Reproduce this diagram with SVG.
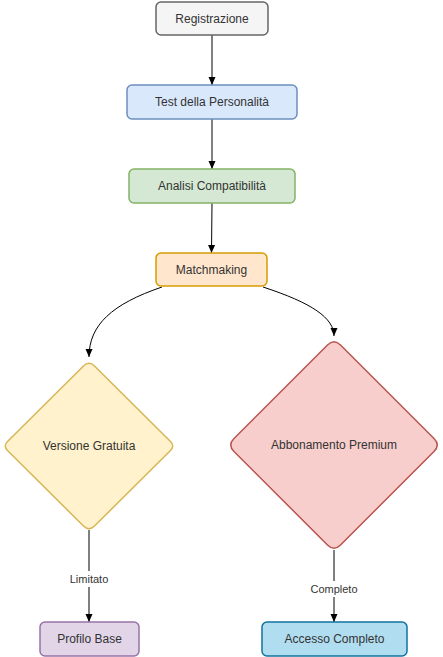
<svg xmlns="http://www.w3.org/2000/svg" width="443" height="657" viewBox="0 0 443 657">
<defs>
<marker id="arr" viewBox="0 0 8 8" refX="8" refY="4" markerWidth="8" markerHeight="8" markerUnits="userSpaceOnUse" orient="auto">
<path d="M0,0.5 L8,4 L0,7.5 Z" fill="#000"/>
</marker>
</defs>
<style>
text{font-family:"Liberation Sans",Arial,sans-serif;font-size:12px;fill:#333;text-anchor:middle;dominant-baseline:central}
.n{stroke-width:1.5}
.e{fill:none;stroke:#000;stroke-width:1;marker-end:url(#arr)}
.lbl{font-size:11px;fill:#333}
</style>
<rect width="443" height="657" fill="#fff"/>
<g id="connectors">
<path class="e" d="M212,35 L212,85"/>
<path class="e" d="M212,119 L212,169"/>
<path class="e" d="M212,203 L211.5,253"/>
<path class="e" d="M162,287 C112,304 89,325 89,357"/>
<path class="e" d="M263,287 C312,303 334,318 334,336"/>
<path class="e" d="M89,530 L89,622"/>
<rect x="66" y="571" width="46" height="16" fill="#fff"/>
<text class="lbl" x="89" y="579">Limitato</text>
<path class="e" d="M334,550 L334,622"/>
<rect x="308" y="581" width="52" height="16" fill="#fff"/>
<text class="lbl" x="334" y="589">Completo</text>
</g>
<g id="registrazione">
<rect class="n" x="156" y="2" width="112" height="33" rx="5" fill="#f5f5f5" stroke="#666666"/>
<text x="212" y="18.5">Registrazione</text>
</g>
<g id="test">
<rect class="n" x="127" y="85" width="170" height="34" rx="5" fill="#dae8fc" stroke="#6c8ebf"/>
<text x="212" y="102">Test della Personalità</text>
</g>
<g id="analisi">
<rect class="n" x="129" y="169" width="166" height="34" rx="5" fill="#d5e8d4" stroke="#82b366"/>
<text x="212" y="186">Analisi Compatibilità</text>
</g>
<g id="matchmaking">
<rect class="n" x="156" y="253" width="111" height="33" rx="5" fill="#ffe6cc" stroke="#d79b00"/>
<text x="211.5" y="269.5">Matchmaking</text>
</g>
<g id="gratuita">
<path class="n" d="M94.5,366 L170,441 Q175.5,446 170,451 L94.5,526 Q89,531.5 83.5,526 L8,451 Q2.5,446 8,441 L83.5,366 Q89,360.5 94.5,366 Z" fill="#fff2cc" stroke="#d6b656"/>
<text x="89" y="446">Versione Gratuita</text>
</g>
<g id="premium">
<path class="n" d="M340.5,345 L434,438.5 Q440.5,445 434,451.5 L340.5,545 Q334,551.5 327.5,545 L234,451.5 Q227.5,445 234,438.5 L327.5,345 Q334,338.5 340.5,345 Z" fill="#f8cecc" stroke="#b85450"/>
<text x="334" y="445">Abbonamento Premium</text>
</g>
<g id="profilo">
<rect class="n" x="40" y="622" width="99" height="34" rx="5" fill="#e1d5e7" stroke="#9673a6"/>
<text x="89.5" y="639">Profilo Base</text>
</g>
<g id="accesso">
<rect class="n" x="262" y="622" width="145" height="34" rx="5" fill="#b1ddf0" stroke="#10739e"/>
<text x="334.5" y="639">Accesso Completo</text>
</g>
</svg>
